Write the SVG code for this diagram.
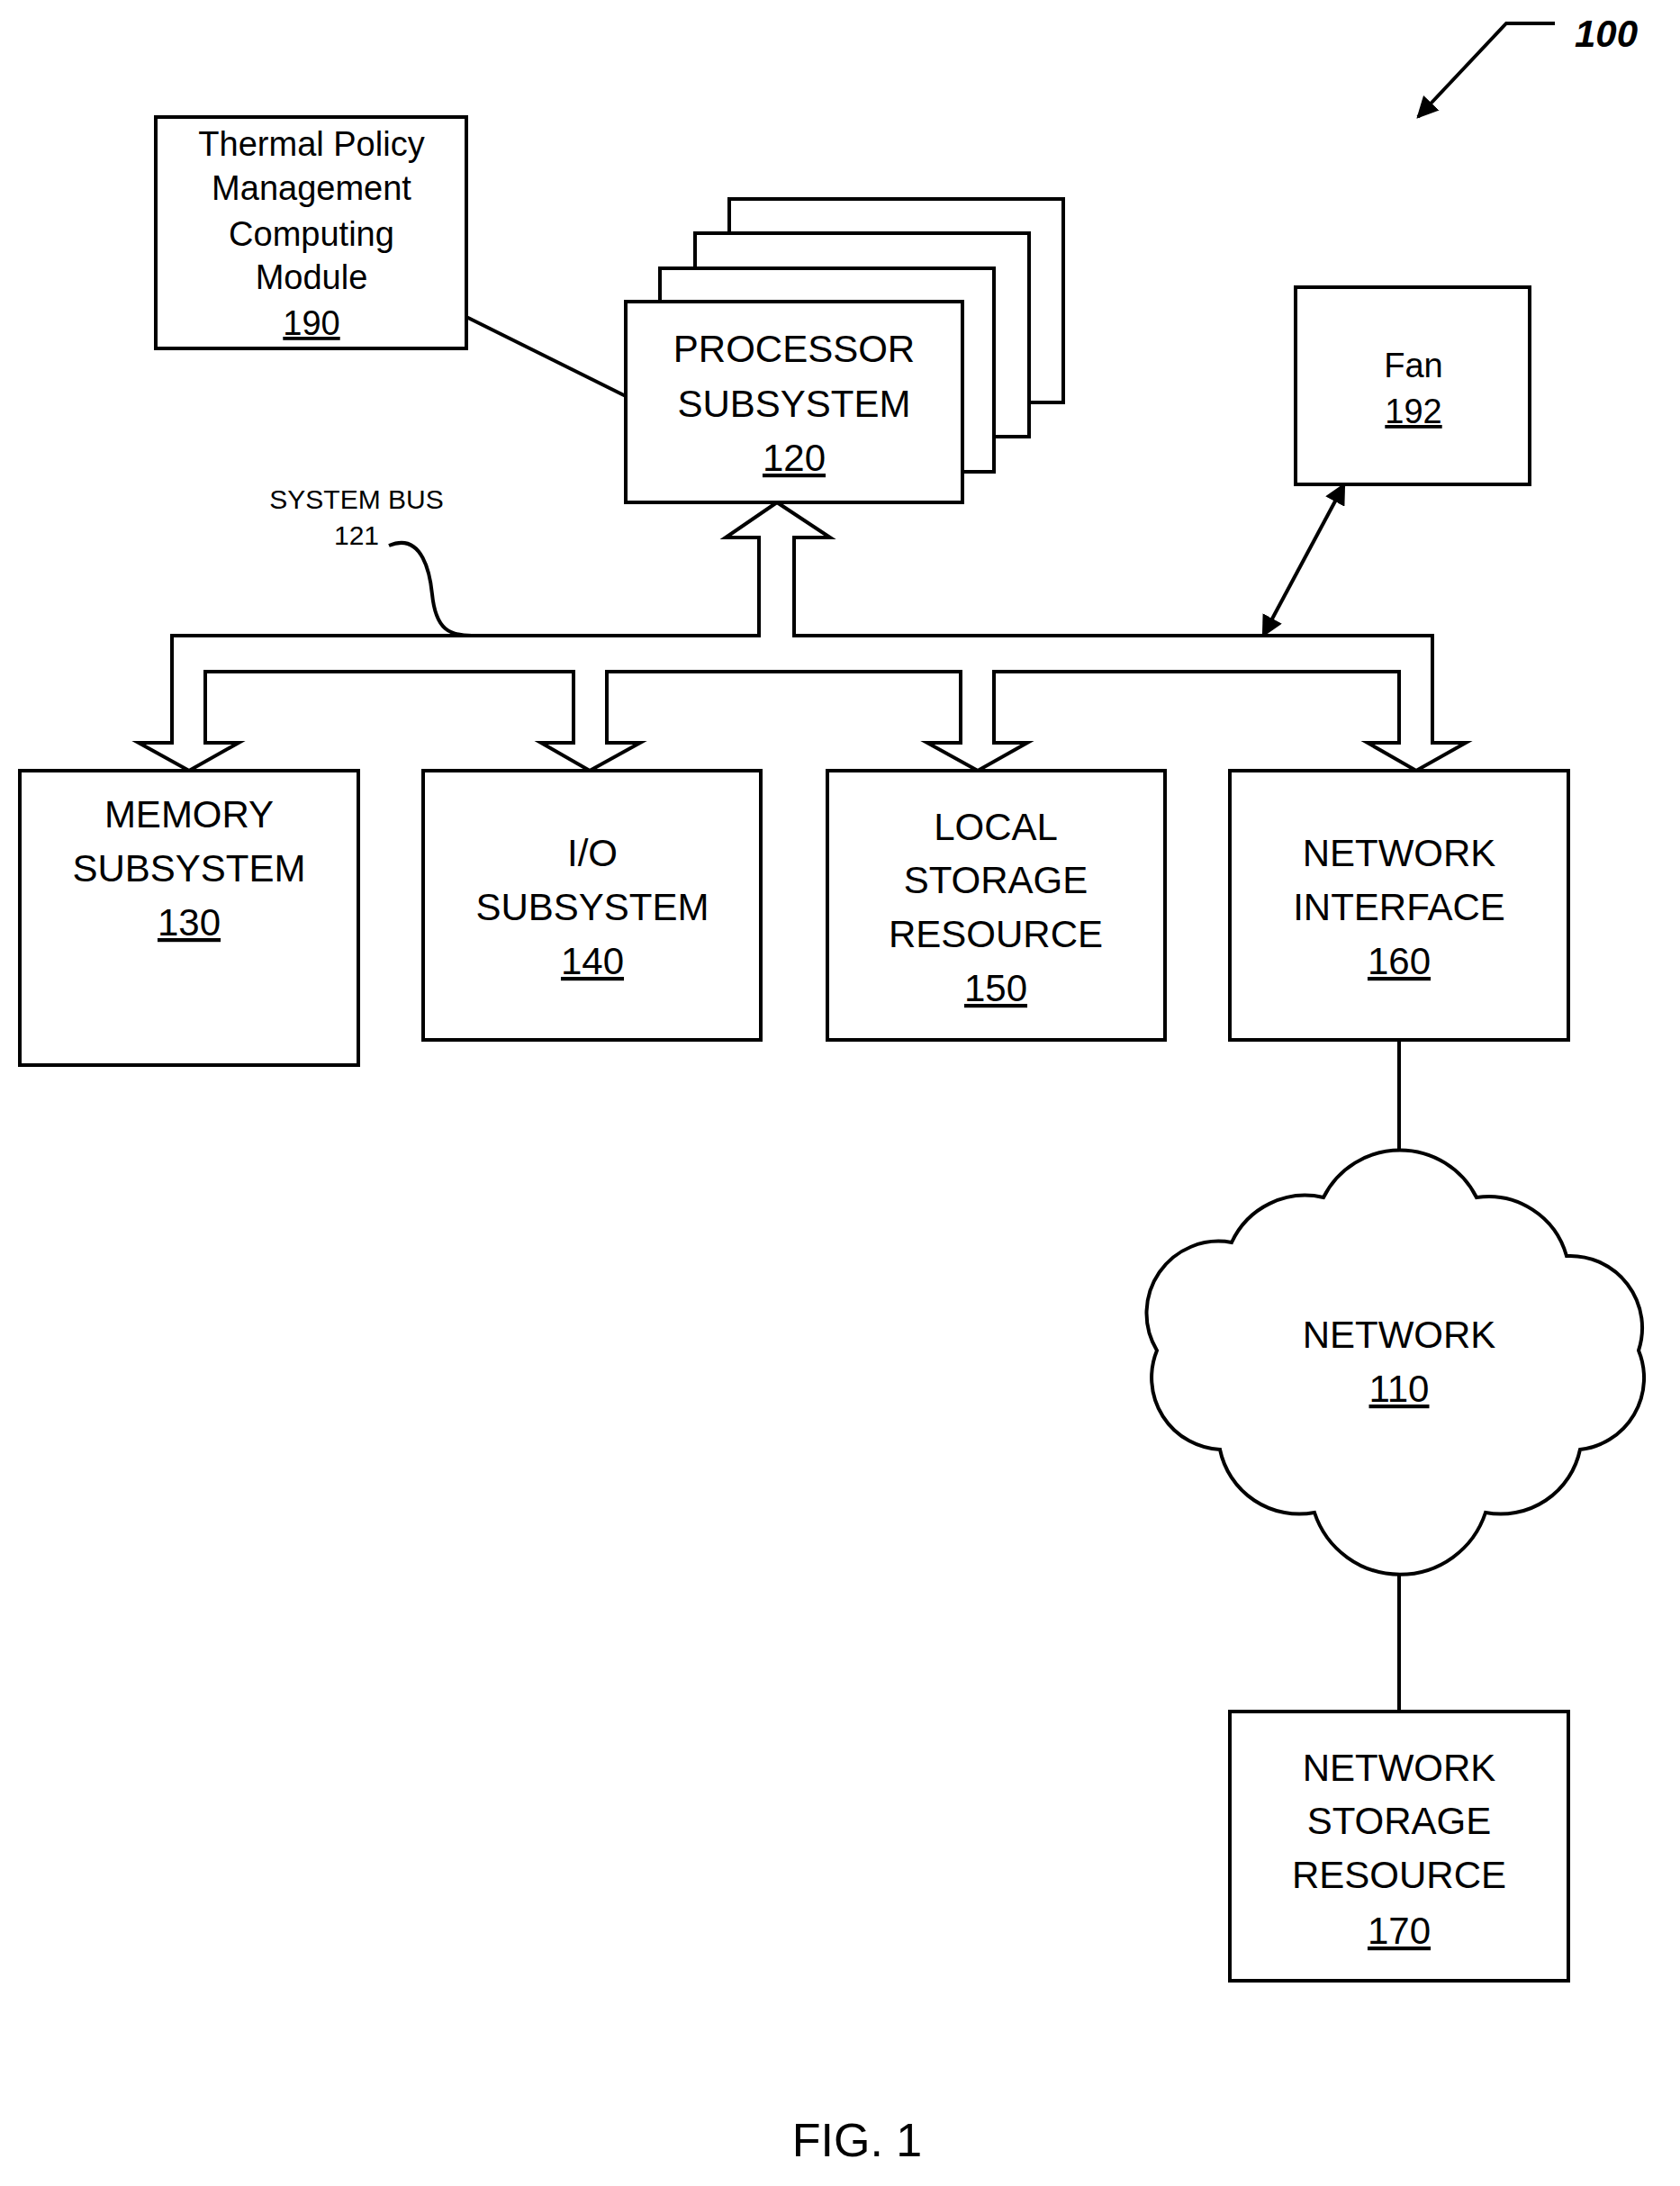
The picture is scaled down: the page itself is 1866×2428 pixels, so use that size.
<svg xmlns="http://www.w3.org/2000/svg" width="1866" height="2428" viewBox="0 0 1866 2428">
<defs>
<style>
.b{fill:#fff;stroke:#000;stroke-width:4}
.l{fill:none;stroke:#000;stroke-width:4}
text{font-family:"Liberation Sans",Arial,sans-serif;text-anchor:middle;fill:#000}
.t{font-size:42px}
.s{font-size:38px}
</style>
<marker id="ah" viewBox="0 0 10 10" refX="9" refY="5" markerWidth="6" markerHeight="6" orient="auto-start-reverse"><path d="M0,0L10,5L0,10z" fill="#000"/></marker>
</defs>
<rect width="1866" height="2428" fill="#fff"/>
<g id="connectors">
<line class="l" x1="518" y1="352" x2="695" y2="440"/>
<line class="l" x1="1493" y1="538" x2="1403" y2="706" marker-start="url(#ah)" marker-end="url(#ah)"/>
<path class="b" d="M843,706 L843,597 L806,597 L863,558 L922,597 L882,597 L882,706 L1591,706 L1591,825 L1628,825 L1573,856 L1519,825 L1554,825 L1554,746 L1104,746 L1104,825 L1141,825 L1086,856 L1030,825 L1067,825 L1067,746 L674,746 L674,825 L711,825 L655,856 L601,825 L637,825 L637,746 L228,746 L228,825 L265,825 L210,856 L154,825 L191,825 L191,706 Z"/>
<path class="l" d="M432,606 C470,590 478,640 480,660 C484,700 500,706 524,706"/>
<line class="l" x1="1554" y1="1155" x2="1554" y2="1280"/>
<line class="l" x1="1554" y1="1749" x2="1554" y2="1901"/>
<path class="l" d="M1727,26 L1673,26 L1575,130" marker-end="url(#ah)"/>
</g>
<g id="n190"><rect class="b" x="173" y="130" width="345" height="257"/>
<text class="s" x="346" y="173">Thermal Policy</text><text class="s" x="346" y="222">Management</text><text class="s" x="346" y="273">Computing</text><text class="s" x="346" y="321">Module</text><text class="s" x="346" y="372" text-decoration="underline">190</text></g>
<g id="n120"><rect class="b" x="810" y="221" width="371" height="226"/><rect class="b" x="772" y="259" width="371" height="226"/><rect class="b" x="733" y="298" width="371" height="226"/><rect class="b" x="695" y="335" width="374" height="223"/>
<text class="t" x="882" y="402">PROCESSOR</text><text class="t" x="882" y="463">SUBSYSTEM</text><text class="t" x="882" y="523" text-decoration="underline">120</text></g>
<g id="n192"><rect class="b" x="1439" y="319" width="260" height="219"/><text class="s" x="1570" y="419">Fan</text><text class="s" x="1570" y="470" text-decoration="underline">192</text></g>
<g id="bus"><text x="396" y="565" style="font-size:30px">SYSTEM BUS</text><text x="396" y="605" style="font-size:30px">121</text></g>
<g id="n130"><rect class="b" x="22" y="856" width="376" height="327"/><text class="t" x="210" y="919">MEMORY</text><text class="t" x="210" y="979">SUBSYSTEM</text><text class="t" x="210" y="1039" text-decoration="underline">130</text></g>
<g id="n140"><rect class="b" x="470" y="856" width="375" height="299"/><text class="t" x="658" y="962">I/O</text><text class="t" x="658" y="1022">SUBSYSTEM</text><text class="t" x="658" y="1082" text-decoration="underline">140</text></g>
<g id="n150"><rect class="b" x="919" y="856" width="375" height="299"/><text class="t" x="1106" y="933">LOCAL</text><text class="t" x="1106" y="992">STORAGE</text><text class="t" x="1106" y="1052">RESOURCE</text><text class="t" x="1106" y="1112" text-decoration="underline">150</text></g>
<g id="n160"><rect class="b" x="1366" y="856" width="376" height="299"/><text class="t" x="1554" y="962">NETWORK</text><text class="t" x="1554" y="1022">INTERFACE</text><text class="t" x="1554" y="1082" text-decoration="underline">160</text></g>
<g id="n110"><path class="b" d="M1368,1380 A90,90 0 0 1 1470,1330 A95,95 0 0 1 1640,1330 A90,90 0 0 1 1740,1395 A80,80 0 0 1 1820,1500 A80,80 0 0 1 1755,1610 A90,90 0 0 1 1650,1680 A100,100 0 0 1 1460,1680 A90,90 0 0 1 1355,1610 A80,80 0 0 1 1285,1500 A80,80 0 0 1 1368,1380 Z"/>
<text class="t" x="1554" y="1497">NETWORK</text><text class="t" x="1554" y="1557" text-decoration="underline">110</text></g>
<g id="n170"><rect class="b" x="1366" y="1901" width="376" height="299"/><text class="t" x="1554" y="1978">NETWORK</text><text class="t" x="1554" y="2037">STORAGE</text><text class="t" x="1554" y="2097">RESOURCE</text><text class="t" x="1554" y="2159" text-decoration="underline">170</text></g>
<text x="1784" y="52" style="font-size:42px;font-weight:bold;font-style:italic">100</text>
<text x="952" y="2395" style="font-size:52px">FIG. 1</text>
</svg>
